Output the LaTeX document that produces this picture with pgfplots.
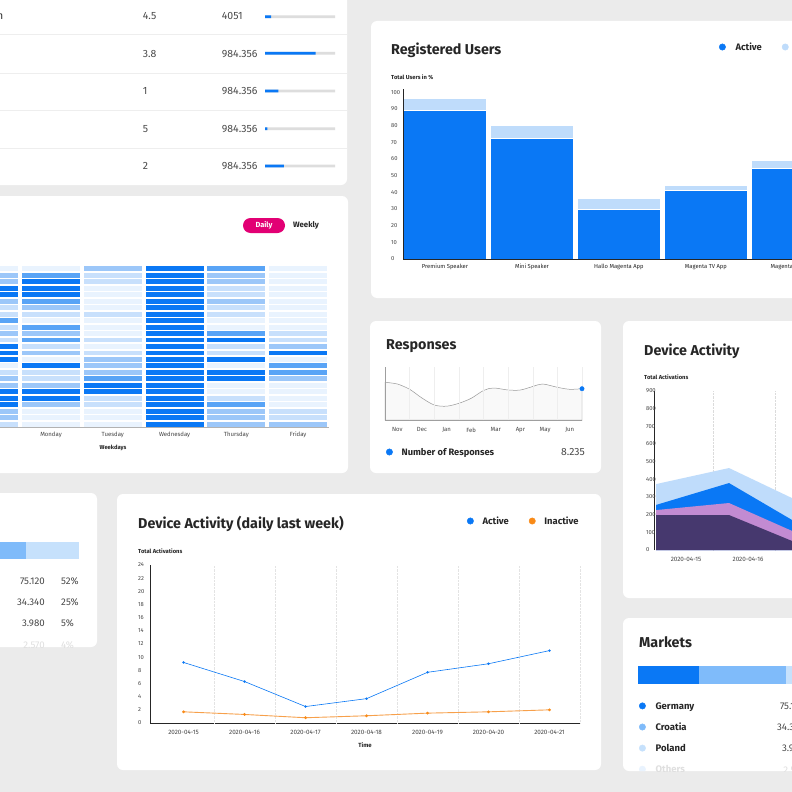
\documentclass[border=0pt]{standalone}
\usepackage{fontspec}
\setmainfont{Fira Sans}
\usepackage{pgfplots}
\usepackage{pgfplotstable}
\pgfplotsset{compat=1.18}

\definecolor{bg}{HTML}{EBEBEB}
\definecolor{ink}{HTML}{262626}
\definecolor{tgray}{HTML}{4A4A4A}
\definecolor{tick}{HTML}{444444}
\definecolor{sep}{HTML}{EEEEEE}
\definecolor{track}{HTML}{DDDDDD}
\definecolor{tblue}{HTML}{0A78F5}
\definecolor{lblue}{HTML}{BFDCFB}
\definecolor{mblue}{HTML}{7FBBFA}
\definecolor{pblue}{HTML}{C6E1FC}
\definecolor{h0}{HTML}{E9F3FE}
\definecolor{h1}{HTML}{C8E0FC}
\definecolor{h2}{HTML}{9CC7F9}
\definecolor{h3}{HTML}{59A4F6}
\definecolor{h4}{HTML}{0A78F5}
\definecolor{orng}{HTML}{F7A04B}
\definecolor{orngdot}{HTML}{F98A17}
\definecolor{tmagenta}{HTML}{E20074}
\definecolor{lav}{HTML}{C28BD2}
\definecolor{dpurp}{HTML}{46386E}

\newcommand\fs[1]{\fontsize{#1}{#1}\selectfont}

% one heatmap cell
\pgfdeclareplotmark{cell}{%
  \pgfpathrectangle{\pgfqpoint{-29pt}{-2.45pt}}{\pgfqpoint{58pt}{4.9pt}}%
  \pgfusepathqfill}

\pgfplotsset{
  every axis/.append style={scale only axis,
    /pgf/number format/assume math mode=true,
    /pgf/number format/1000 sep={},
    major tick length=0pt, tick style={draw=none},
    axis line style={ink, line width=0.7pt},
    tick label style={font=\fs{5.8}, text=tick}},
  ylab/.style={yticklabel style={anchor=west, inner sep=0pt, xshift=-#1}},
  dotleg/.style n args={2}{legend columns=#1, legend cell align=left,
    legend image code/.code={\fill[##1] (0pt,0pt) circle (3.2pt);},
    legend style={draw=none, fill=none, inner sep=0pt,
      font=\bfseries\fs{9.4}, text=ink,
      nodes={inner sep=0pt, text height=6.5pt, text depth=0pt},
      /tikz/every odd column/.style={column sep=#2},
      /tikz/every even column/.style={column sep=20pt}}},
  heat/.style={scatter, only marks, scatter src=explicit symbolic,
    scatter/classes={0={mark=cell,h0},1={mark=cell,h1},2={mark=cell,h2},
      3={mark=cell,h3},4={mark=cell,h4}}},
}

% heatmap levels, rows top to bottom
\pgfplotstableread{
P M T W R F
0 0 2 4 3 0
2 3 1 4 2 0
2 4 1 4 2 0
4 4 0 4 1 0
4 4 0 4 1 0
2 3 0 4 2 0
1 2 0 4 1 0
1 1 1 4 1 0
3 0 0 4 0 0
1 3 0 4 0 0
2 2 0 4 3 1
1 3 1 4 4 1
4 1 0 4 1 2
4 2 1 4 1 4
4 0 2 4 4 0
0 4 2 4 0 3
1 1 2 4 4 3
2 1 3 4 4 2
2 2 4 4 0 0
4 4 4 4 0 0
4 4 1 4 1 0
4 2 1 4 3 0
2 0 0 4 2 1
2 0 0 4 2 1
1 0 0 4 2 2
}\heat

\begin{document}
\begin{tikzpicture}
\useasboundingbox (0,0) rectangle (792pt,-792pt);
\clip (0,0) rectangle (792pt,-792pt);

\begin{scope}[x=1pt,y=-1pt]
\fill[bg] (0,0) rectangle (792,792);
% cards
\fill[white, rounded corners=6pt] (-20,-20) rectangle (347,185);
\fill[white, rounded corners=6pt] (371,21) rectangle (830,298);
\fill[white, rounded corners=6pt] (-20,196) rectangle (348,473);
\fill[white, rounded corners=6pt] (370,321) rectangle (601,473);
\fill[white, rounded corners=6pt] (623,321) rectangle (830,598);
\fill[white, rounded corners=6pt] (-137,493) rectangle (97,647);
\fill[white, rounded corners=6pt] (117,494) rectangle (601,770);
\fill[white, rounded corners=6pt] (623,618) rectangle (857,771);

% table card
\foreach \y in {35,73,110.5,148} \draw[sep, line width=1pt] (0,\y) -- (347,\y);
\node[anchor=base east, inner sep=0pt, font=\fs{10.5}, text=ink] at (3.5,20) {Premium Station};
\foreach \y/\a/\b in {20/4.5/4051, 57.3/3.8/984.356, 94.3/1/984.356, 132.3/5/984.356, 169.7/2/984.356}{
  \node[anchor=base west, inner sep=0pt, font=\fs{10.5}, text=tgray] at (142.7,\y) {\a};
  \node[anchor=base west, inner sep=0pt, font=\fs{10.5}, text=tgray] at (221.7,\y) {\b};
}

% registered users
\node[anchor=base west, inner sep=0pt, font=\bfseries\fs{14.3}, text=ink] at (391,55) {Registered Users};
\node[anchor=base west, inner sep=0pt, font=\bfseries\fs{5.8}, text=ink] at (391,79) {Total Users in \%};

% heatmap card
\fill[tmagenta, rounded corners=7.5pt] (243,218) rectangle (285,233);
\node[inner sep=0pt, font=\bfseries\fs{7.4}, text=white] at (264,225.5) {Daily};
\node[inner sep=0pt, font=\bfseries\fs{7.8}, text=ink] at (306,225.5) {Weekly};
\node[inner sep=0pt, font=\bfseries\fs{5.8}, text=ink] at (113,448) {Weekdays};

% responses
\node[anchor=base west, inner sep=0pt, font=\bfseries\fs{14.3}, text=ink] at (386,349.3) {Responses};
\node[anchor=base east, inner sep=0pt, font=\fs{10.4}, text=tgray] at (585,455.7) {8.235};

% device activity right
\node[anchor=base west, inner sep=0pt, font=\bfseries\fs{14.3}, text=ink] at (644,355) {Device Activity};
\node[anchor=base west, inner sep=0pt, font=\bfseries\fs{5.8}, text=ink] at (644,379.3) {Total Activations};

% device activity bottom
\node[anchor=base west, inner sep=0pt, font=\bfseries\fs{14.3}, text=ink] at (138,528.7) {Device Activity (daily last week)};
\node[anchor=base west, inner sep=0pt, font=\bfseries\fs{5.8}, text=ink] at (138,553) {Total Activations};

% markets right
\node[anchor=base west, inner sep=0pt, font=\bfseries\fs{14.3}, text=ink] at (639,647.3) {Markets};
\begin{scope}
\clip[rounded corners=6pt] (623,618) rectangle (857,771);
\foreach \y/\a/\b/\c in {709/75.120/52\%/tgray, 730.3/34.340/25\%/tgray, 751.7/3.980/5\%/tgray, 773/2.570/4\%/gray!25}{
  \node[anchor=base east, inner sep=0pt, font=\fs{9.7}, text=\c] at (805,\y) {\a};
  \node[anchor=base west, inner sep=0pt, font=\fs{9.7}, text=\c] at (821,\y) {\b};
}
\end{scope}
% markets left
\begin{scope}
\clip[rounded corners=6pt] (-137,493) rectangle (97,647);
\foreach \y/\a/\b/\c in {584/75.120/52\%/tgray, 605.3/34.340/25\%/tgray, 626.7/3.980/5\%/tgray, 648/2.570/4\%/gray!25}{
  \node[anchor=base east, inner sep=0pt, font=\fs{9.7}, text=\c] at (45,\y) {\a};
  \node[anchor=base west, inner sep=0pt, font=\fs{9.7}, text=\c] at (61,\y) {\b};
}
\end{scope}
\end{scope}

% progress bars of the table
\begin{axis}[at={(265pt,0pt)}, anchor=north west, width=70pt, height=185pt,
  xmin=0, xmax=100, ymin=0, ymax=185, y dir=reverse, hide axis]
\addplot[xbar, bar width=2.7pt, bar shift=0pt, fill=track, draw=none]
  coordinates {(100,16.7) (100,53.3) (100,91) (100,128.7) (100,166)};
\addplot[xbar, bar width=2.7pt, bar shift=0pt, fill=tblue, draw=none]
  coordinates {(8.6,16.7) (72.4,53.3) (19,91) (3.3,128.7) (27.1,166)};
\end{axis}

% registered users bars
\begin{axis}[at={(403pt,-259pt)}, width=442pt, height=170pt,
  xmin=-0.483, xmax=4.6, ymin=0, ymax=102,
  axis x line*=bottom, axis y line*=left, axis on top,
  ytick={0,10,...,100}, ylab=12pt,
  xtick={0,...,4},
  xticklabels={Premium Speaker,Mini Speaker,Hallo Magenta App,Magenta TV App,Magenta TV Stick},
  xticklabel style={yshift=-1.5pt, text=ink},
  dotleg={2}{9.8pt}, legend style={at={(0.7145,1.247)}, anchor=west}]
\addplot[ybar, bar width=83.5pt, bar shift=0pt, fill=lblue, draw=white, line width=0.7pt, forget plot]
  coordinates {(0,96.5) (1,80) (2,36.5) (3,44) (4,59)};
\addplot[ybar, bar width=83.5pt, bar shift=0pt, fill=tblue, draw=white, line width=0.7pt, forget plot]
  coordinates {(0,89) (1,72.5) (2,29.5) (3,41) (4,54.5)};
\addlegendimage{tblue}\addlegendentry{Active}
\addlegendimage{lblue}\addlegendentry{Inactive}
\end{axis}

% heatmap
\begin{axis}[at={(-41.7pt,-427.5pt)}, width=370.8pt, height=162pt,
  xmin=-1.5, xmax=4.5, ymin=0.5, ymax=25.5,
  axis x line*=bottom, axis y line=none,
  x axis line style={gray!60, line width=1pt},
  xtick={0,...,4}, xticklabels={Monday,Tuesday,Wednesday,Thursday,Friday},
  xticklabel style={font=\fs{6}, yshift=-1pt}]
\addplot[heat] table[x expr=-1, y expr=25-\coordindex, meta=P] {\heat};
\addplot[heat] table[x expr=0, y expr=25-\coordindex, meta=M] {\heat};
\addplot[heat] table[x expr=1, y expr=25-\coordindex, meta=T] {\heat};
\addplot[heat] table[x expr=2, y expr=25-\coordindex, meta=W] {\heat};
\addplot[heat] table[x expr=3, y expr=25-\coordindex, meta=R] {\heat};
\addplot[heat] table[x expr=4, y expr=25-\coordindex, meta=F] {\heat};
\end{axis}

% responses
\begin{axis}[at={(385pt,-420pt)}, width=197pt, height=53pt,
  xmin=0, xmax=8, ymin=0, ymax=53, clip=false,
  axis x line*=bottom, axis y line*=left, axis on top,
  axis line style={gray!75, line width=0.8pt},
  ytick=\empty, xtick={0.5,1.5,...,7.5},
  xticklabels={Nov,Dec,Jan,Feb,Mar,Apr,May,Jun},
  xticklabel style={font=\fs{6}, yshift=-4pt},
  extra x ticks={1,2,...,8}, extra x tick labels={},
  extra x tick style={grid=major}, major grid style={gray!13, line width=0.5pt},
  dotleg={1}{8.8pt}, legend style={at={(0.0041,-0.604)}, anchor=west, font=\bfseries\fs{9.3}}]
\addplot[smooth, tension=0.5, draw=gray!80, line width=0.5pt, fill=gray!5, forget plot]
  coordinates {(0,37.7) (0.5,36) (1,30.7) (1.5,22) (2,15) (2.5,13.8) (3,16.7) (3.5,21.7)
    (4,29.5) (4.4,32) (5,30) (5.5,30) (6,33.5) (6.4,36) (7,32.7) (7.5,30.7) (8,31.3)} \closedcycle;
\addplot[only marks, mark=*, mark size=2.2pt, tblue, forget plot] coordinates {(8,31.3)};
\addlegendimage{tblue}\addlegendentry{Number of Responses}
\end{axis}

% device activity right (stacked areas, layer tops)
\begin{axis}[at={(654pt,-550pt)}, width=200pt, height=159pt,
  xmin=-2, xmax=198, ymin=0, ymax=900,
  axis x line*=bottom, axis y line*=left,
  x axis line style={draw=none},
  ytick={0,100,...,900}, ylab=8pt,
  xtick={30,92}, xticklabels={2020-04-15,2020-04-16},
  xticklabel style={font=\fs{6.3}, yshift=-3.5pt},
  extra x ticks={57,119}, extra x tick labels={},
  extra x tick style={grid=major}, major grid style={densely dotted, gray!28, line width=0.4pt}]
\addplot[fill=lblue, draw=none] coordinates {(0,373) (73,464) (146,267)} \closedcycle;
\addplot[fill=tblue, draw=none] coordinates {(0,255) (73,379) (146,137)} \closedcycle;
\addplot[fill=lav, draw=none] coordinates {(0,226) (73,266) (146,83)} \closedcycle;
\addplot[fill=dpurp, draw=none] coordinates {(0,198) (73,198) (146,28)} \closedcycle;
\end{axis}

% device activity daily last week
\begin{axis}[at={(150pt,-723pt)}, width=430pt, height=158pt,
  xmin=-0.55, xmax=6.5, ymin=0, ymax=24,
  axis x line*=bottom, axis y line*=left,
  ytick={0,2,...,24}, ylab=12pt,
  xtick={0,...,6},
  xticklabels={2020-04-15,2020-04-16,2020-04-17,2020-04-18,2020-04-19,2020-04-20,2020-04-21},
  xticklabel style={font=\fs{6.3}, yshift=-4pt},
  extra x ticks={0.5,1.5,...,6.5}, extra x tick labels={},
  extra x tick style={grid=major}, major grid style={densely dotted, gray!22, line width=0.4pt},
  xlabel={Time}, xlabel style={at={(axis description cs:0.5,-0.139)}, anchor=center, font=\bfseries\fs{6}, text=ink},
  dotleg={2}{8.8pt}, legend style={at={(0.7367,1.2785)}, anchor=west}]
\addplot[orng, line width=0.9pt, mark=*, mark size=0.9pt, mark options={orngdot}, forget plot]
  coordinates {(0,1.7) (1,1.3) (2,0.8) (3,1.1) (4,1.5) (5,1.7) (6,2.0)};
\addplot[tblue, line width=0.6pt, mark=*, mark size=0.9pt, forget plot]
  coordinates {(0,9.2) (1,6.3) (2,2.5) (3,3.7) (4,7.7) (5,9.0) (6,11.0)};
\addlegendimage{tblue}\addlegendentry{Active}
\addlegendimage{orngdot}\addlegendentry{Inactive}
\end{axis}

% markets right
\begin{scope}
\clip[rounded corners=6pt] (623pt,-618pt) rectangle (857pt,-771pt);
\begin{axis}[at={(638pt,-684pt)}, width=300pt, height=18pt,
  xmin=0, xmax=300, ymin=0, ymax=1, hide axis,
  dotleg={1}{9.8pt}, legend style={at={(0.0027,-1.017)}, anchor=north west, row sep=14.3pt, font=\bfseries\fs{9.5}}]
\addplot[xbar, bar width=18pt, bar shift=0pt, fill=pblue, draw=none, forget plot] coordinates {(201,0.5)};
\addplot[xbar, bar width=18pt, bar shift=0pt, fill=mblue, draw=none, forget plot] coordinates {(148,0.5)};
\addplot[xbar, bar width=18pt, bar shift=0pt, fill=tblue, draw=none, forget plot] coordinates {(61,0.5)};
\addlegendimage{tblue}\addlegendentry{Germany}
\addlegendimage{mblue}\addlegendentry{Croatia}
\addlegendimage{pblue}\addlegendentry{Poland}
\addlegendimage{h0}\addlegendentry[text=gray!25]{Others}
\end{axis}
\end{scope}

% markets left
\begin{axis}[at={(-122pt,-559pt)}, width=300pt, height=17pt,
  xmin=0, xmax=300, ymin=0, ymax=1, hide axis]
\addplot[xbar, bar width=17pt, bar shift=0pt, fill=pblue, draw=none] coordinates {(201,0.5)};
\addplot[xbar, bar width=17pt, bar shift=0pt, fill=mblue, draw=none] coordinates {(148,0.5)};
\addplot[xbar, bar width=17pt, bar shift=0pt, fill=tblue, draw=none] coordinates {(61,0.5)};
\end{axis}
\end{tikzpicture}
\end{document}
